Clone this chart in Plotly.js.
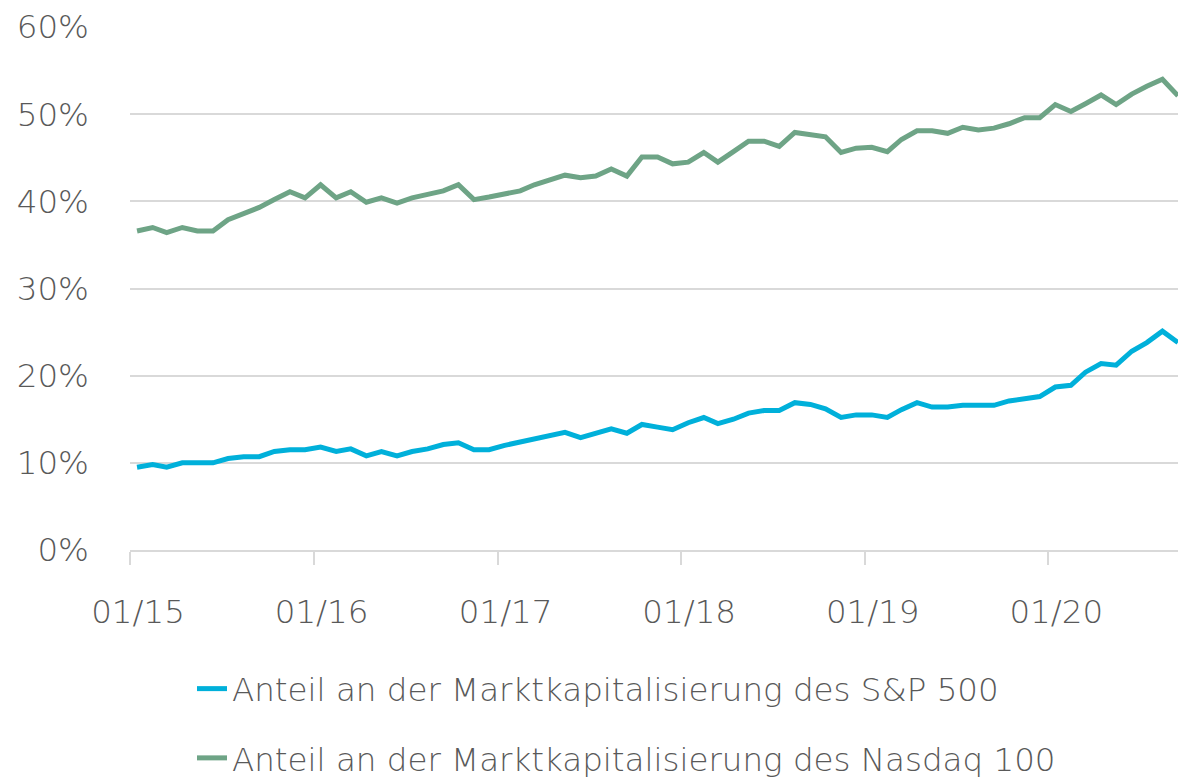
<!DOCTYPE html>
<html>
<head>
<meta charset="utf-8">
<script src="https://cdn.plot.ly/plotly-3.0.1.min.js"></script>
<style>
  html, body { margin: 0; padding: 0; background: #ffffff; }
  #chart { width: 1178px; height: 780px; }
</style>
</head>
<body>
<div id="chart"></div>
<script>
// Monthly observations (mid-month), Jan 2015 – Sep 2020
const months = [
  '2015-01-15','2015-02-15','2015-03-15','2015-04-15','2015-05-15','2015-06-15',
  '2015-07-15','2015-08-15','2015-09-15','2015-10-15','2015-11-15','2015-12-15',
  '2016-01-15','2016-02-15','2016-03-15','2016-04-15','2016-05-15','2016-06-15',
  '2016-07-15','2016-08-15','2016-09-15','2016-10-15','2016-11-15','2016-12-15',
  '2017-01-15','2017-02-15','2017-03-15','2017-04-15','2017-05-15','2017-06-15',
  '2017-07-15','2017-08-15','2017-09-15','2017-10-15','2017-11-15','2017-12-15',
  '2018-01-15','2018-02-15','2018-03-15','2018-04-15','2018-05-15','2018-06-15',
  '2018-07-15','2018-08-15','2018-09-15','2018-10-15','2018-11-15','2018-12-15',
  '2019-01-15','2019-02-15','2019-03-15','2019-04-15','2019-05-15','2019-06-15',
  '2019-07-15','2019-08-15','2019-09-15','2019-10-15','2019-11-15','2019-12-15',
  '2020-01-15','2020-02-15','2020-03-15','2020-04-15','2020-05-15','2020-06-15',
  '2020-07-15','2020-08-15','2020-09-15'
];

// Share of market capitalisation (%)
const spShare = [
  9.5, 9.8, 9.5, 10.0, 10.0, 10.0, 10.5, 10.7, 10.7, 11.3, 11.5, 11.5,
  11.8, 11.3, 11.6, 10.8, 11.3, 10.8, 11.3, 11.6, 12.1, 12.3, 11.5, 11.5,
  12.0, 12.4, 12.8, 13.1, 13.5, 12.9, 13.4, 13.9, 13.4, 14.4, 14.1, 13.8,
  14.6, 15.2, 14.5, 15.0, 15.7, 16.0, 16.0, 16.9, 16.7, 16.2, 15.2, 15.5,
  15.5, 15.2, 16.1, 16.9, 16.4, 16.4, 16.6, 16.6, 16.6, 17.1, 17.3, 17.6,
  18.7, 18.9, 20.4, 21.4, 21.2, 22.8, 23.8, 25.1, 23.8
];

const ndxShare = [
  36.6, 37.0, 36.4, 37.0, 36.6, 36.6, 37.9, 38.6, 39.3, 40.2, 41.1, 40.4,
  41.9, 40.4, 41.1, 39.9, 40.4, 39.8, 40.4, 40.8, 41.2, 41.9, 40.2, 40.5,
  40.8, 41.2, 41.9, 42.5, 43.0, 42.7, 42.9, 43.7, 42.9, 45.1, 45.1, 44.3,
  44.5, 45.6, 44.5, 45.7, 46.9, 46.9, 46.3, 47.9, 47.7, 47.4, 45.6, 46.1,
  46.2, 45.7, 47.1, 48.1, 48.1, 47.8, 48.5, 48.2, 48.4, 48.9, 49.6, 49.6,
  51.1, 50.3, 51.2, 52.2, 51.1, 52.3, 53.2, 54.0, 52.1
];

const seriesNames = [
  'Anteil an der Marktkapitalisierung des S&P 500',
  'Anteil an der Marktkapitalisierung des Nasdaq 100'
];
const seriesColors = ['#00b0da', '#6ea486'];

const yTickValues = [0, 10, 20, 30, 40, 50, 60];
const yTickLabels = ['0%', '10%', '20%', '30%', '40%', '50%', '60%'];

const fontFamily = '"DejaVu Sans", "Liberation Sans", Arial, sans-serif';
const textColor = '#595959';
const gridColor = '#d9d9d9';

const traces = [
  {
    x: months, y: spShare, name: seriesNames[0], type: 'scatter', mode: 'lines',
    line: { color: seriesColors[0], width: 5 }, legendgroup: 'a'
  },
  {
    x: months, y: ndxShare, name: seriesNames[1], type: 'scatter', mode: 'lines',
    line: { color: seriesColors[1], width: 5 }, legendgroup: 'b'
  }
];

const layout = {
  width: 1178,
  height: 780,
  margin: { l: 130, r: 0, t: 27, b: 230, autoexpand: false },
  paper_bgcolor: '#ffffff',
  plot_bgcolor: '#ffffff',
  font: { family: fontFamily, size: 32.5, color: textColor, weight: 200 },
  showlegend: true,
  hovermode: false,
  xaxis: {
    type: 'date',
    range: ['2015-01-01', '2020-09-15'],
    tick0: '2015-01-01',
    dtick: 'M12',
    tickformat: '%m/%y',
    tickangle: 0,
    showgrid: false,
    zeroline: false,
    showline: true,
    linecolor: gridColor,
    linewidth: 2,
    ticks: 'outside',
    ticklen: 13,
    tickwidth: 2,
    tickcolor: gridColor,
    ticklabelstandoff: 19,
    ticklabelshift: 8,
    automargin: false,
    tickfont: { family: fontFamily, size: 32.5, color: textColor, weight: 200 }
  },
  yaxis: {
    range: [0, 60],
    tickmode: 'array',
    tickvals: yTickValues,
    ticktext: yTickLabels,
    showgrid: true,
    gridcolor: gridColor,
    gridwidth: 2,
    zeroline: false,
    showline: false,
    ticks: '',
    ticklabelstandoff: 40,
    automargin: false,
    tickfont: { family: fontFamily, size: 32.5, color: textColor, weight: 200 }
  },
  legend: {
    orientation: 'v',
    x: (192 - 130) / 1048,
    xanchor: 'left',
    y: -(661 - 550) / 523,
    yanchor: 'top',
    traceorder: 'grouped',
    tracegroupgap: 24,
    bgcolor: 'rgba(0,0,0,0)',
    font: { family: fontFamily, size: 32.5, color: textColor, weight: 200 }
  }
};

Plotly.newPlot('chart', traces, layout, { staticPlot: true, displayModeBar: false });
</script>
</body>
</html>
